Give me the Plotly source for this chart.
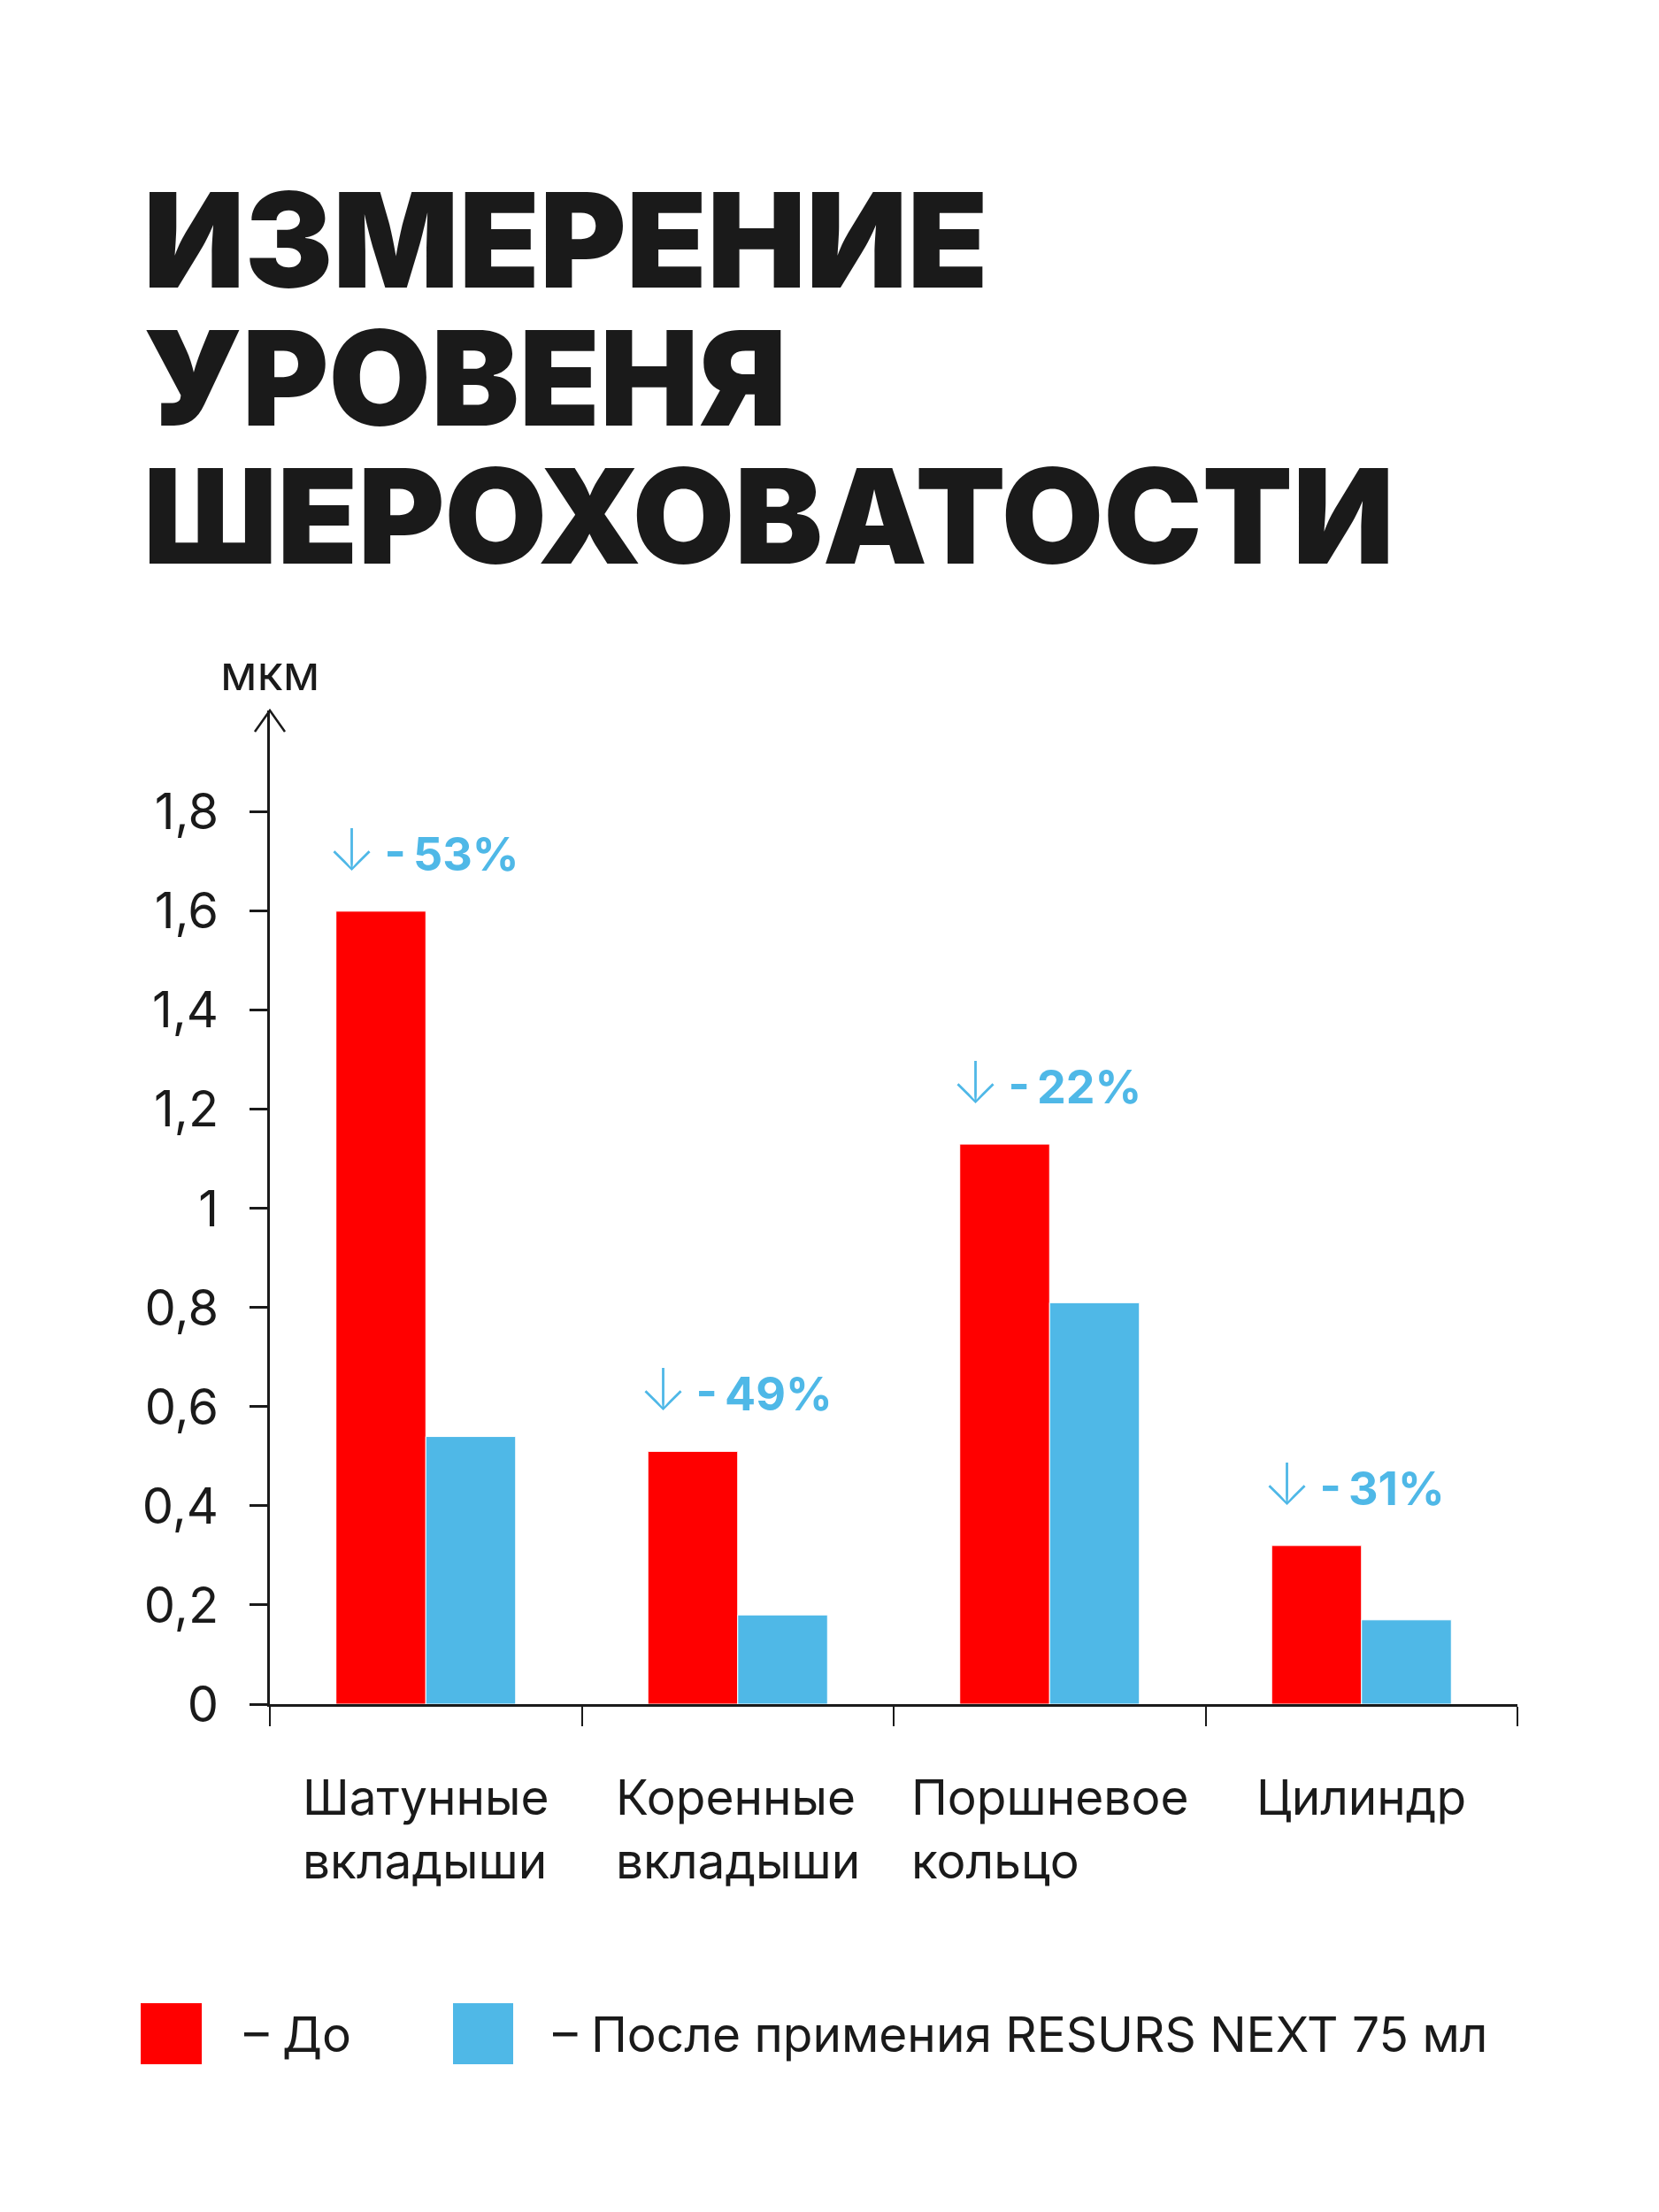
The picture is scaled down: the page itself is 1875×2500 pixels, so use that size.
import plotly.graph_objects as go

# ---- data ----
categories = ["Шатунные<br>вкладыши", "Коренные<br>вкладыши", "Поршневое<br>кольцо", "Цилиндр"]
before = [1.60, 0.51, 1.13, 0.32]
after = [0.54, 0.18, 0.81, 0.17]
reduction_pct = [53, 49, 22, 31]
ytick_vals = [0, 0.2, 0.4, 0.6, 0.8, 1.0, 1.2, 1.4, 1.6, 1.8]
ytick_text = ["0", "0,2", "0,4", "0,6", "0,8", "1", "1,2", "1,4", "1,6", "1,8"]
series_names = ["До", "После примения RESURS NEXT 75 мл"]
title_lines = ["ИЗМЕРЕНИЕ", "УРОВЕНЯ", "ШЕРОХОВАТОСТИ"]
unit_label = "мкм"

RED = "#FF0000"
BLUE = "#4FB8E7"
INK = "#1A1A1A"
FONT = "Inter"

W, H = 1875, 2500
L, R, T, B = 305, 160, 803, 574
PW, PH = W - L - R, H - T - B


def px(x):
    return (x - L) / PW


def py(y):
    return (H - B - y) / PH


fig = go.Figure()
fig.add_trace(go.Bar(x=categories, y=before, name=series_names[0],
                     marker=dict(color=RED, line=dict(color="white", width=1))))
fig.add_trace(go.Bar(x=categories, y=after, name=series_names[1],
                     marker=dict(color=BLUE, line=dict(color="white", width=1))))

annotations = []
# reduction labels
for i, (v, p) in enumerate(zip(before, reduction_pct)):
    annotations.append(dict(
        x=i - 0.288, y=v, xref="x", yref="y", xanchor="left", yanchor="middle",
        xshift=-12, yshift=70, showarrow=False,
        text=f"<span style='font-weight:200;font-size:66px'>↓</span>\u2009<b>-\u2009{p}%</b>",
        font=dict(family=FONT, size=52, color=BLUE),
    ))
# category labels
for i, c in enumerate(categories):
    annotations.append(dict(
        x=i, y=py(1996), xref="x", yref="paper", xanchor="center", yanchor="top",
        align="left", showarrow=False, text=c,
        font=dict(family=FONT, size=55, color=INK),
    ))
# title
for j, line in enumerate(title_lines):
    annotations.append(dict(
        x=px(160), y=py(271 + 156 * j), xref="paper", yref="paper",
        xanchor="left", yanchor="middle", showarrow=False, text=line,
        font=dict(family=FONT, size=149, color=INK, weight=900),
    ))
# unit label
annotations.append(dict(x=0, y=py(760), xref="paper", yref="paper", xanchor="center", yanchor="middle",
                        showarrow=False, text=unit_label, font=dict(family=FONT, size=54, color=INK)))
# legend texts
annotations.append(dict(x=px(274), y=py(2299), xref="paper", yref="paper", xanchor="left", yanchor="middle",
                        showarrow=False, text="– " + series_names[0], font=dict(family=FONT, size=55, color=INK)))
annotations.append(dict(x=px(623), y=py(2299), xref="paper", yref="paper", xanchor="left", yanchor="middle",
                        showarrow=False, text="– " + series_names[1], font=dict(family=FONT, size=55, color=INK)))

shapes = [
    # arrow head on y axis
    dict(type="path", xref="paper", yref="paper",
         path=f"M {px(288)},{py(827)} L {px(305)},{py(803)} L {px(322)},{py(827)}",
         line=dict(color=INK, width=2.5)),
    # legend swatches
    dict(type="rect", xref="paper", yref="paper", x0=px(159), x1=px(228), y0=py(2333), y1=py(2264),
         fillcolor=RED, line=dict(width=0)),
    dict(type="rect", xref="paper", yref="paper", x0=px(512), x1=px(580), y0=py(2333), y1=py(2264),
         fillcolor=BLUE, line=dict(width=0)),
]

fig.update_layout(
    width=W, height=H,
    margin=dict(l=L, r=R, t=T, b=B, pad=0),
    paper_bgcolor="white", plot_bgcolor="white",
    barmode="group", bargap=0.424, bargroupgap=0,
    showlegend=False,
    annotations=annotations, shapes=shapes,
    font=dict(family=FONT, color=INK),
)
fig.update_xaxes(
    type="category", range=[-0.5, 3.5], showline=True, linecolor=INK, linewidth=3,
    ticks="outside", tickson="boundaries", ticklen=22, tickwidth=2, tickcolor=INK,
    showticklabels=False, showgrid=False, zeroline=False,
)
fig.update_yaxes(
    range=[0, 2.005], showline=True, linecolor=INK, linewidth=2.5,
    ticks="outside", ticklen=20, tickwidth=2.5, tickcolor=INK,
    tickvals=ytick_vals, ticktext=ytick_text, ticklabelstandoff=24,
    tickfont=dict(family=FONT, size=56, color=INK),
    showgrid=False, zeroline=False,
)

fig.write_html("out.html")
